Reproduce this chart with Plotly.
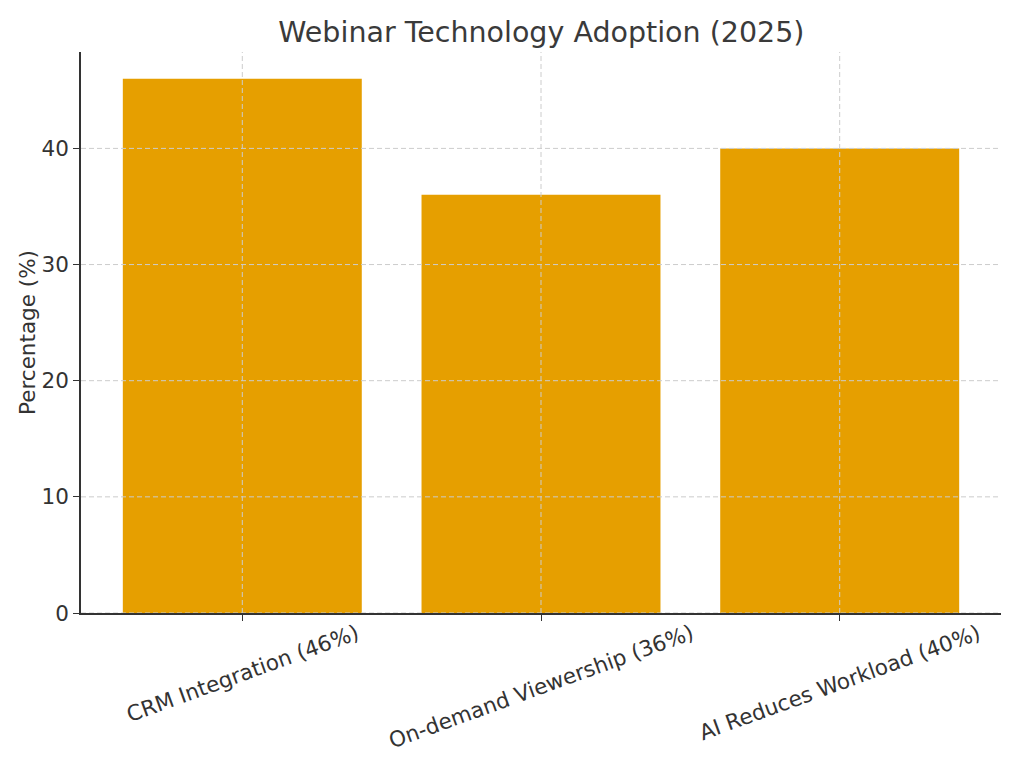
import plotly.graph_objects as go

categories = ["CRM Integration (46%)", "On-demand Viewership (36%)", "AI Reduces Workload (40%)"]
values = [46, 36, 40]
y_ticks = [0, 10, 20, 30, 40]

FONT = "DejaVu Sans"
TXT = "#333333"

fig = go.Figure()
xpos = list(range(len(categories)))
fig.add_trace(go.Bar(x=xpos, y=values, width=0.8, marker=dict(color="#E69F00", line=dict(width=0)),
                     hoverinfo="skip"))

shapes = []
for v in y_ticks:
    shapes.append(dict(type="line", xref="paper", x0=0, x1=1, yref="y", y0=v, y1=v,
                       line=dict(color="#cccccc", width=1, dash="5px,3px"), layer="above"))
for i in xpos:
    shapes.append(dict(type="line", xref="x", x0=i, x1=i, yref="paper", y0=0, y1=1,
                       line=dict(color="#cccccc", width=1, dash="5px,3px"), layer="above"))

annotations = []
for i, c in zip(xpos, categories):
    annotations.append(dict(x=i, xref="x", y=0, yref="paper", yanchor="top", xanchor="center",
                            yshift=-4, text=c, showarrow=False, textangle=-20,
                            font=dict(family=FONT, size=21.5, color=TXT)))

fig.update_layout(
    width=1024, height=768,
    margin=dict(l=81, r=23, t=52, b=155),
    paper_bgcolor="white", plot_bgcolor="white",
    title=dict(text="Webinar Technology Adoption (2025)", x=0.5287, xanchor="center",
               y=1 - 32 / 768, yanchor="middle",
               font=dict(family=FONT, size=28.5, color="#3a3a3a")),
    showlegend=False,
    bargap=0.2,
    shapes=shapes,
    annotations=annotations,
    xaxis=dict(range=[-0.54, 2.54], tickmode="array", tickvals=xpos, ticktext=[""] * len(xpos),
               showgrid=False, zeroline=False, showline=True, linecolor="#333333", linewidth=1.5,
               ticks="outside", ticklen=6, tickcolor="#333333", tickwidth=1.2, layer="above traces"),
    yaxis=dict(range=[0, 48.3], tickmode="array", tickvals=y_ticks,
               showgrid=False, zeroline=False, showline=True, linecolor="#333333", linewidth=1.5,
               ticks="outside", ticklen=6, tickcolor="#333333", tickwidth=1.2,
               tickfont=dict(family=FONT, size=21.5, color=TXT),
               title=dict(text="Percentage (%)", font=dict(family=FONT, size=21.5, color=TXT), standoff=0),
               layer="above traces"),
)

fig.write_html("out.html")
